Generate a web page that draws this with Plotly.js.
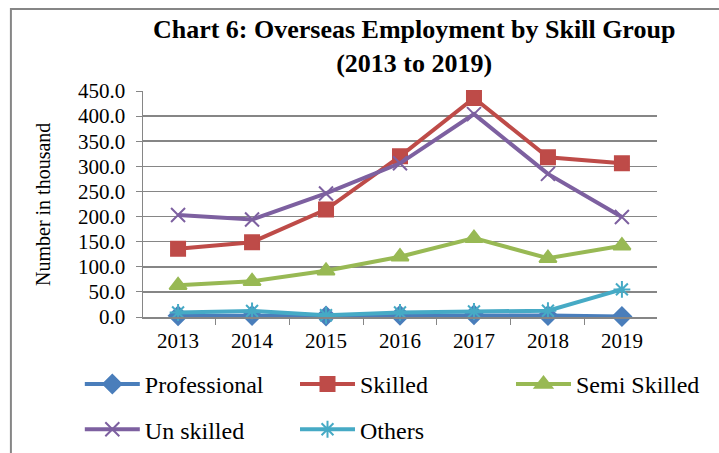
<!DOCTYPE html>
<html>
<head>
<meta charset="utf-8">
<script src="https://cdn.plot.ly/plotly-3.0.1.min.js"></script>
<style>
html,body{margin:0;padding:0;background:#fff;}
#chart{width:719px;height:453px;}
</style>
</head>
<body>
<div id="chart"></div>
<script>
const years = ['2013','2014','2015','2016','2017','2018','2019'];
const professional = [2.5, 2.9, 1.8, 3.5, 4.3, 2.8, 1.0];
const skilled = [136, 149, 214, 320, 436, 318, 306];
const semiSkilled = [63, 71, 92, 120, 157, 117, 142];
const unSkilled = [203, 194, 246, 306, 404, 285, 199];
const others = [9, 12, 3.5, 9, 11, 12.5, 55];
const yTicks = [0, 50, 100, 150, 200, 250, 300, 350, 400, 450];
const yTitle = 'Number in thousand';

const serif = 'Liberation Serif';

function series(name, y, color, symbol, msize, legend) {
  return {
    x: years, y: y, name: name, type: 'scatter', mode: 'lines+markers',
    line: {color: color, width: 4},
    marker: {symbol: symbol, size: msize, color: color, line: {color: color, width: 2}},
    cliponaxis: false, legend: legend, legendgroup: name
  };
}

const data = [
  series('Professional', professional, '#4A7EBB', 'diamond', 14, 'legend'),
  series('Skilled', skilled, '#BE4B48', 'square', 14, 'legend2'),
  series('Semi Skilled', semiSkilled, '#98B954', 'triangle-up', 15, 'legend3'),
  series('Un skilled', unSkilled, '#7D60A0', 'x-thin-open', 14, 'legend'),
  series('Others', others, '#46AAC5', 'asterisk-open', 14, 'legend2')
];

const legendBase = {
  orientation: 'v', xref: 'container', yref: 'container', xanchor: 'left', yanchor: 'top',
  font: {family: serif, size: 24, color: '#000'}, traceorder: 'grouped',
  itemwidth: 55, tracegroupgap: 11, bgcolor: 'rgba(0,0,0,0)', y: 0.201
};

const layout = {
  width: 719, height: 453,
  margin: {l: 143, r: 62, t: 91, b: 136, autoexpand: false},
  paper_bgcolor: '#fff', plot_bgcolor: '#fff',
  font: {family: serif, color: '#000', size: 21},
  title: {
    text: '<b>Chart 6: Overseas Employment by Skill Group<br>(2013 to 2019)</b>',
    font: {family: serif, size: 26, color: '#000'},
    xref: 'container', yref: 'container',
    x: 0.576, xanchor: 'center', y: 0.916, yanchor: 'middle'
  },
  xaxis: {
    type: 'category', tickson: 'boundaries', ticks: 'outside', ticklen: 6,
    tickcolor: '#868686', showline: true, linecolor: '#868686', linewidth: 1.5,
    showgrid: false, tickfont: {family: serif, size: 21, color: '#000'}, zeroline: false,
    ticklabelstandoff: 4, automargin: false
  },
  yaxis: {
    range: [0, 450], tickvals: yTicks, tickformat: '.1f', ticks: 'outside', ticklen: 6,
    tickcolor: '#868686', showline: true, linecolor: '#868686', linewidth: 1.5,
    showgrid: true, gridcolor: '#868686', gridwidth: 1.5, zeroline: false,
    tickfont: {family: serif, size: 21, color: '#000'}, ticklabelstandoff: 6, automargin: false
  },
  annotations: [{
    text: yTitle, xref: 'paper', yref: 'paper', x: -0.1946, y: 0.5,
    xanchor: 'center', yanchor: 'middle', textangle: -90, showarrow: false,
    font: {family: serif, size: 20, color: '#000'}
  }],
  legend: Object.assign({}, legendBase, {x: 0.111}),
  legend2: Object.assign({}, legendBase, {x: 0.4103}),
  legend3: Object.assign({}, legendBase, {x: 0.7107}),
  shapes: [{
    type: 'path', xref: 'paper', yref: 'paper',
    path: 'M -0.257 -0.7 L -0.257 1.363 L 1.2 1.363',
    line: {color: '#868686', width: 2}
  }],
  showlegend: true
};

Plotly.newPlot('chart', data, layout, {displayModeBar: false, staticPlot: true});
</script>
</body>
</html>
